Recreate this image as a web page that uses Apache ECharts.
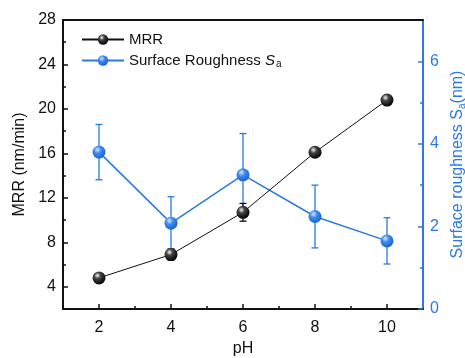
<!DOCTYPE html>
<html>
<head>
<meta charset="utf-8">
<script src="https://cdn.jsdelivr.net/npm/echarts@6/dist/echarts.min.js"></script>
<style>
  html, body { margin: 0; padding: 0; background: #fff; }
  #chart { width: 465px; height: 358px; }
</style>
</head>
<body>
<div id="chart"></div>
<script>
const ph = [2, 4, 6, 8, 10]
const mrr = [4.8, 6.9, 10.7, 16.1, 20.8]
const mrrErr = [0.3, 0.5, 0.8, 0.3, 0.3]
const sa = [3.8, 2.08, 3.25, 2.24, 1.65]
const saErr = [0.67, 0.64, 1.0, 0.76, 0.56]

const xMajor = [2, 4, 6, 8, 10]
const xMinor = [3, 5, 7, 9]
const leftMajor = [4, 8, 12, 16, 20, 24, 28]
const leftMinor = [6, 10, 14, 18, 22, 26]
const rightMajor = [0, 2, 4, 6]
const rightMinor = [1, 3, 5]

const blue = '#2a7ae2'
const font = 'Liberation Sans'

const pairs = (xs, ys) => xs.map((x, i) => [x, ys[i]])
const errRows = (xs, ys, es) => xs.map((x, i) => [x, ys[i] - es[i], ys[i] + es[i]])

const blackBall = {
  type: 'radial', x: 0.38, y: 0.32, r: 0.7,
  colorStops: [
    { offset: 0, color: '#f4f4f4' },
    { offset: 0.35, color: '#444' },
    { offset: 1, color: '#000' }
  ]
}
const blueBall = {
  type: 'radial', x: 0.38, y: 0.32, r: 0.7,
  colorStops: [
    { offset: 0, color: '#d6e8ff' },
    { offset: 0.4, color: '#3d8af0' },
    { offset: 1, color: '#1a62c8' }
  ]
}

const errorBars = (color, width) => (params, api) => {
  const x = api.value(0)
  const lo = api.coord([x, api.value(1)])
  const hi = api.coord([x, api.value(2)])
  const cap = 3.5
  const style = { stroke: color, lineWidth: width }
  return {
    type: 'group',
    children: [
      { type: 'line', shape: { x1: lo[0], y1: lo[1], x2: hi[0], y2: hi[1] }, style },
      { type: 'line', shape: { x1: lo[0] - cap, y1: lo[1], x2: lo[0] + cap, y2: lo[1] }, style },
      { type: 'line', shape: { x1: hi[0] - cap, y1: hi[1], x2: hi[0] + cap, y2: hi[1] }, style }
    ]
  }
}

const myChart = echarts.init(document.getElementById('chart'))

const hidden = { show: false }
const option = {
  animation: false,
  textStyle: { fontFamily: font },
  grid: { left: 63, right: 42, top: 20, bottom: 49, containLabel: false, outerBoundsMode: 'none' },
  legend: {
    data: ['MRR', 'Surface Roughness Sa'],
    orient: 'vertical',
    left: 76,
    top: 27,
    itemWidth: 42,
    itemHeight: 13,
    itemGap: 6,
    formatter: (name) => name === 'MRR' ? 'MRR' : 'Surface Roughness {i|S}{sub|a}',
    textStyle: {
      fontFamily: font,
      fontSize: 15,
      color: '#111',
      rich: {
        i: { fontFamily: font, fontSize: 15, fontStyle: 'italic', color: '#111' },
        sub: { fontFamily: font, fontSize: 10, color: '#111', verticalAlign: 'bottom', padding: [8, 0, 0, 1] }
      }
    }
  },
  xAxis: [
    {
      type: 'value', min: 1, max: 11, position: 'bottom',
      name: 'pH', nameLocation: 'middle', nameGap: 32,
      nameTextStyle: { fontFamily: font, fontSize: 16, color: '#111' },
      axisLine: { lineStyle: { color: '#111', width: 2 } },
      axisTick: { inside: true, length: 5, customValues: xMajor, lineStyle: { color: '#111', width: 1.5 } },
      axisLabel: { customValues: xMajor, margin: 11, fontSize: 16, color: '#111', fontFamily: font },
      splitLine: hidden
    },
    {
      type: 'value', min: 1, max: 11, position: 'bottom',
      axisLine: hidden,
      axisTick: { inside: true, length: 3, customValues: xMinor, lineStyle: { color: '#111', width: 1.5 } },
      axisLabel: hidden,
      splitLine: hidden
    },
    {
      type: 'value', min: 1, max: 11, position: 'top',
      axisLine: { lineStyle: { color: '#111', width: 2 } },
      axisTick: hidden, axisLabel: hidden, splitLine: hidden
    }
  ],
  yAxis: [
    {
      type: 'value', min: 2, max: 28, position: 'left',
      name: 'MRR (nm/min)', nameLocation: 'middle', nameGap: 30,
      nameTextStyle: { fontFamily: font, fontSize: 16, color: '#111' },
      axisLine: { show: true, lineStyle: { color: '#111', width: 2 } },
      axisTick: { show: true, inside: true, length: 5, customValues: leftMajor, lineStyle: { color: '#111', width: 1.5 } },
      axisLabel: { customValues: leftMajor, margin: 7, fontSize: 16, color: '#111', fontFamily: font },
      splitLine: hidden
    },
    {
      type: 'value', min: 2, max: 28, position: 'left',
      axisLine: hidden,
      axisTick: { show: true, inside: true, length: 3, customValues: leftMinor, lineStyle: { color: '#111', width: 1.5 } },
      axisLabel: hidden,
      splitLine: hidden
    },
    {
      type: 'value', min: 0, max: 7, position: 'right',
      name: 'Surface roughness S{sub|a}(nm)', nameLocation: 'middle', nameGap: 23,
      nameRotate: 90,
      nameTextStyle: {
        fontFamily: font, fontSize: 16, color: blue,
        rich: { sub: { fontFamily: font, fontSize: 10, color: blue, verticalAlign: 'bottom', padding: [8, 0, 0, 0] } }
      },
      axisLine: { show: true, lineStyle: { color: blue, width: 2 } },
      axisTick: { show: true, inside: true, length: 5, customValues: rightMajor, lineStyle: { color: blue, width: 1.5 } },
      axisLabel: { customValues: rightMajor, margin: 7, fontSize: 16, color: blue, fontFamily: font },
      splitLine: hidden
    },
    {
      type: 'value', min: 0, max: 7, position: 'right',
      axisLine: hidden,
      axisTick: { show: true, inside: true, length: 3, customValues: rightMinor, lineStyle: { color: blue, width: 1.5 } },
      axisLabel: hidden,
      splitLine: hidden
    }
  ],
  series: [
    {
      type: 'custom', name: 'saErr', xAxisIndex: 0, yAxisIndex: 2, z: 1,
      renderItem: errorBars(blue, 1.3),
      data: errRows(ph, sa, saErr)
    },
    {
      type: 'line', name: 'Surface Roughness Sa', xAxisIndex: 0, yAxisIndex: 2, z: 2,
      data: pairs(ph, sa),
      symbol: 'circle', symbolSize: 13,
      lineStyle: { color: blue, width: 1.5 },
      itemStyle: { color: blueBall, borderWidth: 0 }
    },
    {
      type: 'custom', name: 'mrrErr', xAxisIndex: 0, yAxisIndex: 0, z: 3,
      renderItem: errorBars('#111', 1.3),
      data: errRows(ph, mrr, mrrErr)
    },
    {
      type: 'line', name: 'MRR', xAxisIndex: 0, yAxisIndex: 0, z: 4,
      data: pairs(ph, mrr),
      symbol: 'circle', symbolSize: 13,
      lineStyle: { color: '#111', width: 1 },
      itemStyle: { color: blackBall, borderWidth: 0 }
    }
  ]
}

myChart.setOption(option)
</script>
</body>
</html>
